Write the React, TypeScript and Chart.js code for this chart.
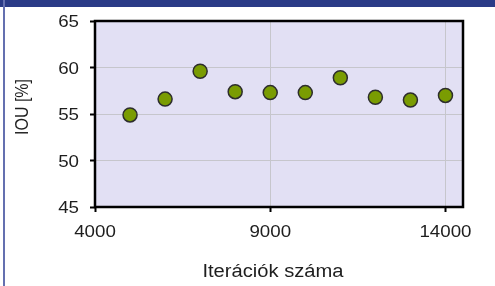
import React, { useEffect, useRef } from "react";
import { Chart, registerables } from "chart.js";

Chart.register(...registerables);

const iterations = [5000, 6000, 7000, 8000, 9000, 10000, 11000, 12000, 13000, 14000];
const iouValues = [54.9, 56.6, 59.6, 57.4, 57.3, 57.3, 58.9, 56.8, 56.5, 57.0];
const xTicks = [4000, 9000, 14000];
const yTicks = [45, 50, 55, 60, 65];
const xTitle = "Iterációk száma";
const yTitle = "IOU [%]";

const FONT = '"Liberation Sans", Arial, sans-serif';
const TEXT_COLOR = "#1e1e1e";
const STRETCH = 1.17;

function drawText(ctx: CanvasRenderingContext2D, text: string, x: number, y: number, align: CanvasTextAlign, size: number, sx: number) {
  ctx.save();
  ctx.translate(x, y);
  ctx.scale(sx, 1);
  ctx.font = `${size}px ${FONT}`;
  ctx.fillStyle = TEXT_COLOR;
  ctx.textAlign = align;
  ctx.textBaseline = "alphabetic";
  ctx.fillText(text, 0, 0);
  ctx.restore();
}

const framePlugin = {
  id: "frame",
  beforeDraw(chart: any) {
    const { ctx, chartArea: a } = chart;
    ctx.save();
    ctx.fillStyle = "#e2e0f4";
    ctx.fillRect(a.left, a.top, a.right - a.left, a.bottom - a.top);
    ctx.restore();
  },
  beforeDatasetsDraw(chart: any) {
    const { ctx, chartArea: a } = chart;
    ctx.save();
    ctx.strokeStyle = "#000";
    ctx.lineWidth = 2.5;
    ctx.strokeRect(a.left, a.top, a.right - a.left, a.bottom - a.top);
    ctx.restore();
  },
  afterDraw(chart: any) {
    const { ctx, chartArea: a } = chart;
    const xs = chart.scales.x;
    const ys = chart.scales.y;
    xs.ticks.forEach((t: any) => {
      drawText(ctx, String(t.value), xs.getPixelForValue(t.value), a.bottom + 30, "center", 16, STRETCH);
    });
    ys.ticks.forEach((t: any) => {
      drawText(ctx, String(t.value), a.left - 16, ys.getPixelForValue(t.value) + 6, "right", 16, STRETCH);
    });
    drawText(ctx, xTitle, (a.left + a.right) / 2 - 6, 277, "center", 18, 1.12);
    ctx.save();
    ctx.translate(23, 107);
    ctx.rotate(-Math.PI / 2);
    ctx.scale(1, STRETCH);
    ctx.font = `16px ${FONT}`;
    ctx.fillStyle = TEXT_COLOR;
    ctx.textAlign = "center";
    ctx.textBaseline = "middle";
    ctx.fillText(yTitle, 0, 0);
    ctx.restore();
  },
};

export default function App() {
  const canvasRef = useRef<HTMLCanvasElement | null>(null);

  useEffect(() => {
    const canvas = canvasRef.current;
    if (!canvas) return;
    const chart = new Chart(canvas, {
      type: "scatter",
      data: {
        datasets: [
          {
            data: iterations.map((x, i) => ({ x, y: iouValues[i] })),
            backgroundColor: "#7a9c02",
            borderColor: "#2d2d2d",
            borderWidth: 1.5,
            pointRadius: 7,
            pointHoverRadius: 7,
          },
        ],
      },
      options: {
        animation: false,
        responsive: false,
        devicePixelRatio: 1,
        layout: { padding: { top: 21, right: 32, left: 0, bottom: 0 } },
        plugins: { legend: { display: false }, tooltip: { enabled: false } },
        scales: {
          x: {
            type: "linear",
            min: 4000,
            max: 14500,
            afterBuildTicks: (s: any) => {
              s.ticks = xTicks.map((v) => ({ value: v }));
            },
            afterFit: (s: any) => {
              s.height = 79;
            },
            grid: { color: "#c6c6cc", lineWidth: 1, tickColor: "#000", tickWidth: 2, tickLength: 5, drawTicks: true },
            border: { display: false },
            ticks: { display: false },
          },
          y: {
            type: "linear",
            min: 45,
            max: 65,
            afterBuildTicks: (s: any) => {
              s.ticks = yTicks.map((v) => ({ value: v }));
            },
            afterFit: (s: any) => {
              s.width = 95;
            },
            grid: { color: "#c6c6cc", lineWidth: 1, tickColor: "#000", tickWidth: 2, tickLength: 5, drawTicks: true },
            border: { display: false },
            ticks: { display: false },
          },
        },
      },
      plugins: [framePlugin],
    });
    return () => chart.destroy();
  }, []);

  return (
    <div style={{ position: "fixed", left: 0, top: 0, width: 495, height: 286, background: "#fff", overflow: "hidden" }}>
      <canvas ref={canvasRef} width={495} height={286} style={{ position: "absolute", left: 0, top: 0, width: 495, height: 286 }} />
      <div style={{ position: "absolute", left: 0, top: 0, width: 495, height: 7, background: "#2a3b87" }} />
      <div style={{ position: "absolute", left: 3, top: 0, width: 2, height: 286, background: "#6470b0" }} />
    </div>
  );
}
